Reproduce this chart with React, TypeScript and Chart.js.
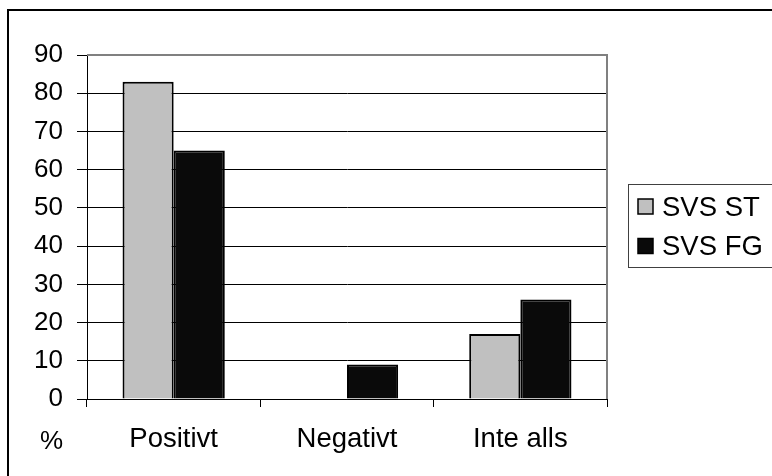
import React, { useEffect, useRef } from "react";
import { Chart, registerables } from "chart.js";

Chart.register(...registerables);

const categories = ["Positivt", "Negativt", "Inte alls"];
const seriesNames = ["SVS ST", "SVS FG"];
const svsST = [83, 0, 17];
const svsFG = [65, 9, 26];
const seriesColors = ["#C0C0C0", "#0A0A0A"];
const yMin = 0;
const yMax = 90;
const yStep = 10;
const unitLabel = "%";

const FONT = "'Liberation Sans', Arial, Helvetica, sans-serif";
const Y_FONT_SIZE = 26;
const X_FONT_SIZE = 27.5;

const framePlugin = {
  id: "frame",
  beforeDraw(chart: any) {
    const ctx = chart.ctx;
    ctx.save();
    ctx.fillStyle = "#ffffff";
    ctx.fillRect(0, 0, chart.width, chart.height);
    ctx.strokeStyle = "#000";
    ctx.lineWidth = 2;
    ctx.beginPath();
    ctx.moveTo(8, chart.height);
    ctx.lineTo(8, 10);
    ctx.lineTo(chart.width, 10);
    ctx.stroke();
    ctx.restore();
  },
  afterDraw(chart: any) {
    const ctx = chart.ctx;
    const a = chart.chartArea;
    ctx.save();
    // plot area top/right border (gray)
    ctx.strokeStyle = "#808080";
    ctx.lineWidth = 2;
    ctx.beginPath();
    ctx.moveTo(a.left, a.top);
    ctx.lineTo(a.right, a.top);
    ctx.lineTo(a.right, a.bottom);
    ctx.stroke();
    // unit label
    ctx.fillStyle = "#000";
    ctx.font = `${Y_FONT_SIZE}px ${FONT}`;
    ctx.textAlign = "right";
    ctx.textBaseline = "middle";
    ctx.fillText(unitLabel, a.left - 24, a.bottom + 43);
    // legend
    const lx = 628.5;
    const ly = 184.5;
    ctx.strokeStyle = "#404040";
    ctx.lineWidth = 1;
    ctx.strokeRect(lx, ly, 160, 83);
    ctx.font = `${X_FONT_SIZE}px ${FONT}`;
    chart.data.datasets.forEach((ds: any, i: number) => {
      const by = 199 + 39.5 * i;
      ctx.fillStyle = ds.backgroundColor;
      ctx.fillRect(638, by, 15, 15);
      ctx.strokeStyle = "#000";
      ctx.lineWidth = 1.5;
      ctx.strokeRect(638, by, 15, 15);
      ctx.fillStyle = "#000";
      ctx.textAlign = "left";
      ctx.textBaseline = "middle";
      ctx.fillText(ds.label, 662, by + 9);
    });
    ctx.restore();
  },
};

export default function App() {
  const ref = useRef<HTMLCanvasElement | null>(null);
  useEffect(() => {
    if (!ref.current) return;
    const chart = new Chart(ref.current, {
      type: "bar",
      data: {
        labels: categories,
        datasets: [
          {
            label: seriesNames[0],
            data: svsST,
            backgroundColor: seriesColors[0],
            borderColor: "#000",
            borderWidth: 2,
            categoryPercentage: 0.59,
            barPercentage: 1,
          },
          {
            label: seriesNames[1],
            data: svsFG,
            backgroundColor: seriesColors[1],
            borderColor: "#000",
            borderWidth: 2,
            categoryPercentage: 0.59,
            barPercentage: 1,
          },
        ],
      },
      options: {
        responsive: false,
        animation: false,
        devicePixelRatio: 1,
        layout: { padding: { top: 55, right: 165, left: 0, bottom: 0 } },
        plugins: {
          legend: { display: false },
          tooltip: { enabled: false },
        },
        scales: {
          x: {
            afterFit: (s: any) => {
              s.height = 77;
            },
            grid: {
              display: true,
              drawOnChartArea: false,
              drawTicks: true,
              tickLength: 8,
              color: "#000",
              offset: true,
            },
            border: { color: "#000", width: 1 },
            ticks: {
              color: "#000",
              font: { family: FONT, size: X_FONT_SIZE },
              padding: 16,
              maxRotation: 0,
            },
          },
          y: {
            min: yMin,
            max: yMax,
            afterFit: (s: any) => {
              s.width = 87;
            },
            grid: {
              color: (c: any) => (c.tick && c.tick.value === yMax ? "#808080" : "#000"),
              tickColor: "#000",
              tickLength: 10,
              lineWidth: 1,
            },
            border: { color: "#000", width: 1 },
            ticks: {
              stepSize: yStep,
              color: "#000",
              font: { family: FONT, size: Y_FONT_SIZE },
              padding: 14,
            },
          },
        },
      },
      plugins: [framePlugin],
    });
    return () => chart.destroy();
  }, []);
  return (
    <div style={{ position: "fixed", left: 0, top: 0, width: 772, height: 476 }}>
      <canvas ref={ref} width={772} height={476} style={{ width: 772, height: 476, display: "block" }} />
    </div>
  );
}
